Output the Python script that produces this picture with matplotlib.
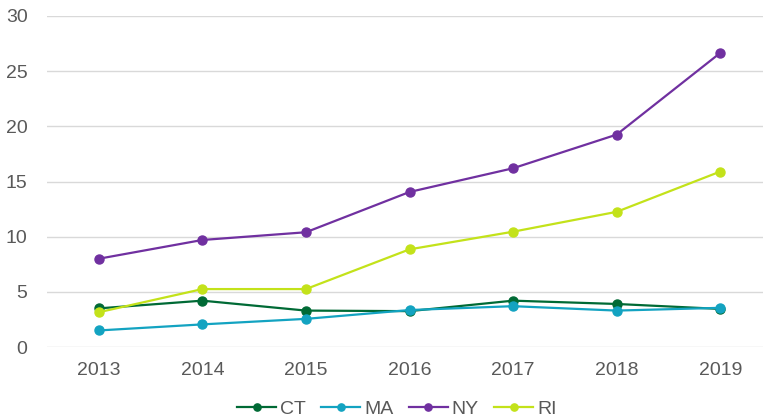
import matplotlib.pyplot as plt

years = ["2013", "2014", "2015", "2016", "2017", "2018", "2019"]
ct = [3.5, 4.2, 3.3, 3.25, 4.2, 3.9, 3.45]
ma = [1.5, 2.05, 2.55, 3.35, 3.7, 3.3, 3.55]
ny = [8.0, 9.7, 10.4, 14.05, 16.2, 19.25, 26.65]
ri = [3.15, 5.25, 5.25, 8.85, 10.45, 12.25, 15.9]

series = [("CT", ct, "#006a35"), ("MA", ma, "#13a3c1"),
          ("NY", ny, "#7030a0"), ("RI", ri, "#c3e21a")]

plt.rcParams['font.family'] = ['Liberation Sans', 'DejaVu Sans']

fig = plt.figure(figsize=(7.63, 4.2), dpi=100)
ax = fig.add_axes([47 / 763, 1 - 347 / 420, 725 / 763, 331 / 420])

x = list(range(len(years)))
for name, vals, col in series:
    ax.plot(x, vals, color=col, lw=1.6, marker='o', ms=6.5, label=name)

ax.set_xlim(-0.5, len(years) - 0.5)
ax.set_ylim(0, 30)
ax.set_yticks(range(0, 31, 5))
ax.set_xticks(x)
ax.set_xticklabels(years)
ax.grid(axis='y', color='#d9d9d9', lw=1)
ax.set_axisbelow(True)
for s in ax.spines.values():
    s.set_visible(False)
ax.tick_params(length=0, labelsize=14, labelcolor='#595959')
ax.tick_params(axis='x', pad=11)
ax.tick_params(axis='y', pad=14)

fig.legend(loc='center', bbox_to_anchor=(397 / 763, 1 - 409 / 420), ncol=4, frameon=False,
           fontsize=14, labelcolor='#595959', handlelength=2.0, handletextpad=0.2,
           columnspacing=0.8, borderaxespad=0, markerscale=0.8)

fig.savefig("out.png", dpi=100)
